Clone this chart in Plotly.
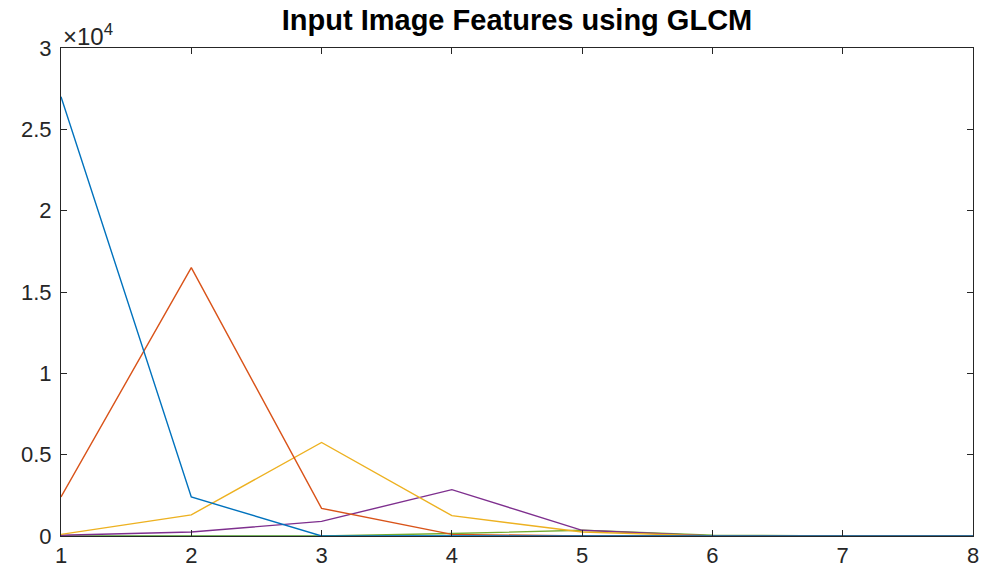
import plotly.graph_objects as go

x = [1, 2, 3, 4, 5, 6, 7, 8]
s1 = [27000, 2400, 0, 0, 0, 0, 0, 0]
s2 = [2400, 16500, 1700, 100, 0, 0, 0, 0]
s3 = [100, 1300, 5750, 1250, 250, 0, 0, 0]
s4 = [50, 250, 900, 2850, 350, 0, 0, 0]
s5 = [0, 0, 0, 150, 350, 50, 0, 0]
s6 = [0, 0, 0, 0, 0, 0, 0, 0]
series = [s1, s2, s3, s4, s5, s6]
colors = ["#0072BD", "#D95319", "#EDB120", "#7E2F8E", "#77AC30", "#4DBEEE"]

yticks = [0, 5000, 10000, 15000, 20000, 25000, 30000]
yticklabels = ["0", "0.5", "1", "1.5", "2", "2.5", "3"]
xticks = [1, 2, 3, 4, 5, 6, 7, 8]

fig = go.Figure()
for ys, c in zip(series[::-1], colors[::-1]):
    fig.add_trace(go.Scatter(x=x, y=ys, mode="lines", line=dict(color=c, width=1.4),
                             showlegend=False))

axcol = "#262626"
fig.update_layout(
    width=982, height=579, autosize=False,
    margin=dict(l=61, r=9, t=48, b=43),
    paper_bgcolor="white", plot_bgcolor="white",
    font=dict(family="Liberation Sans, Arial, sans-serif", color=axcol, size=22),
    title=dict(text="<b>Input Image Features using GLCM</b>", x=0.5, xref="paper",
               y=1, yref="container", yanchor="top", pad=dict(t=10),
               font=dict(size=29, color="black")),
    xaxis=dict(range=[1, 8], tickvals=xticks, ticks="inside", ticklen=6, tickcolor=axcol,
               showline=True, linecolor=axcol, linewidth=1, mirror="ticks", showgrid=False,
               zeroline=False, tickfont=dict(size=22), automargin=False),
    yaxis=dict(range=[0, 30000], tickvals=yticks, ticktext=yticklabels, ticks="inside",
               ticklen=6, tickcolor=axcol, showline=True, linecolor=axcol, linewidth=1,
               mirror="ticks", showgrid=False, zeroline=False, tickfont=dict(size=22),
               automargin=False, ticklabelstandoff=4),
    annotations=[dict(text="×10<sup>4</sup>", x=0, xref="paper", y=1, yref="paper",
                      xanchor="left", yanchor="bottom", showarrow=False,
                      font=dict(size=24, color=axcol), yshift=-4)],
)
fig.write_html("out.html", config={"responsive": False, "displayModeBar": False},
               post_script="document.body.style.margin='0';document.body.style.overflow='hidden';")
